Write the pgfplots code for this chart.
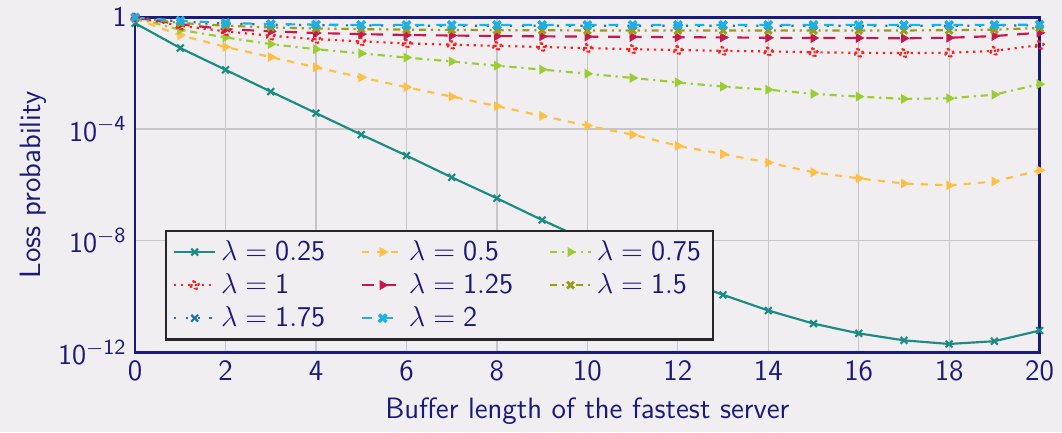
\documentclass[border=0pt]{standalone}
\usepackage{pgfplots}
\pgfplotsset{compat=1.18}
\usepackage{xcolor}
\renewcommand{\familydefault}{\sfdefault}
\definecolor{bgc}{HTML}{F0EEF0}
\definecolor{navy}{HTML}{1A1A78}
\definecolor{cA}{HTML}{1A8C84}
\definecolor{cB}{HTML}{FFBF45}
\definecolor{cC}{HTML}{9ACD32}
\definecolor{cD}{HTML}{FF1E1E}
\definecolor{cE}{HTML}{C8174C}
\definecolor{cF}{HTML}{9C9C14}
\definecolor{cG}{HTML}{2074AE}
\definecolor{cH}{HTML}{1CB0E8}
\pagecolor{bgc}
\newcommand{\fs}{\fontsize{12.3}{14.5}\selectfont}
\begin{document}
\begin{tikzpicture}
\begin{axis}[
    scale only axis,
    width=378pt, height=140pt,
    ymode=log,
    xmin=0, xmax=20, ymin=1e-12, ymax=1,
    xtick={0,2,...,20},
    ytick={1e-12,1e-8,1e-4,1},
    yticklabels={$\mathsf{10^{-12}}$,$\mathsf{10^{-8}}$,$\mathsf{10^{-4}}$,$\mathsf{1}$},
    xticklabel style={/pgf/number format/assume math mode=true},
    tick label style={font=\fs, text=navy},
    label style={font=\fs, text=navy},
    xlabel={Buffer length of the fastest server},
    ylabel={Loss probability},
    ylabel style={yshift=-2pt},
    axis line style={navy, line width=1pt},
    tick style={draw=none},
    grid=major,
    major grid style={gray!45, line width=0.5pt},
    legend columns=3,
    legend style={at={(0.033,0.035)}, anchor=south west, fill=bgc,
        draw=black!85, line width=0.9pt, font=\fs, text=navy,
        /tikz/every even column/.append style={column sep=13pt}},
    legend cell align=left,
]
\addplot[cA, line width=0.9pt, mark=x, mark size=2pt] coordinates {
(0,0.617) (1,7.94e-2) (2,1.32e-2) (3,2.19e-3) (4,3.72e-4) (5,6.31e-5) (6,1.12e-5)
(7,1.86e-6) (8,3.31e-7) (9,5.50e-8) (10,1.0e-8) (11,2.0e-9) (12,4.47e-10) (13,1.15e-10)
(14,3.16e-11) (15,1.07e-11) (16,4.79e-12) (17,2.69e-12) (18,2.0e-12) (19,2.51e-12) (20,6.03e-12)};
\addlegendentry{$\lambda = \mathsf{0.25}$}
\addplot[cB, line width=0.9pt, dashed, mark=triangle*, mark size=1.5pt, mark options={rotate=-90, solid}] coordinates {
(0,0.891) (1,0.229) (2,8.71e-2) (3,3.80e-2) (4,1.62e-2) (5,7.08e-3) (6,3.16e-3)
(7,1.45e-3) (8,6.61e-4) (9,2.95e-4) (10,1.32e-4) (11,6.31e-5) (12,2.51e-5) (13,1.26e-5)
(14,6.31e-6) (15,2.82e-6) (16,1.70e-6) (17,1.12e-6) (18,9.55e-7) (19,1.32e-6) (20,3.31e-6)};
\addlegendentry{$\lambda = \mathsf{0.5}$}
\addplot[cC, line width=0.9pt, dash dot, mark=triangle*, mark size=1.5pt, mark options={rotate=-90, solid}] coordinates {
(0,0.955) (1,0.355) (2,0.191) (3,0.110) (4,7.24e-2) (5,5.13e-2) (6,3.63e-2)
(7,2.63e-2) (8,1.86e-2) (9,1.35e-2) (10,9.55e-3) (11,6.76e-3) (12,4.68e-3) (13,3.31e-3)
(14,2.57e-3) (15,1.82e-3) (16,1.45e-3) (17,1.20e-3) (18,1.26e-3) (19,1.70e-3) (20,4.07e-3)};
\addlegendentry{$\lambda = \mathsf{0.75}$}
\addplot[cD, line width=0.9pt, dotted, mark=oplus, mark size=1.8pt] coordinates {
(0,0.977) (1,0.501) (2,0.316) (3,0.219) (4,0.166) (5,0.138) (6,0.117)
(7,0.105) (8,9.55e-2) (9,8.71e-2) (10,7.94e-2) (11,7.24e-2) (12,6.76e-2) (13,6.31e-2)
(14,6.03e-2) (15,5.62e-2) (16,5.37e-2) (17,5.25e-2) (18,5.37e-2) (19,6.31e-2) (20,0.102)};
\addlegendentry{$\lambda = \mathsf{1}$}
\addplot[cE, line width=0.9pt, dash pattern=on 5pt off 4pt, mark=triangle*, mark size=1.5pt, mark options={rotate=-90, solid}] coordinates {
(0,0.977) (1,0.562) (2,0.380) (3,0.316) (4,0.275) (5,0.251) (6,0.234)
(7,0.224) (8,0.214) (9,0.209) (10,0.204) (11,0.200) (12,0.195) (13,0.191)
(14,0.186) (15,0.182) (16,0.182) (17,0.178) (18,0.186) (19,0.214) (20,0.282)};
\addlegendentry{$\lambda = \mathsf{1.25}$}
\addplot[cF, line width=0.9pt, dash dot dot, mark=x, mark size=2pt, mark options={solid, line width=1.2pt}] coordinates {
(0,0.977) (1,0.631) (2,0.501) (3,0.437) (4,0.398) (5,0.380) (6,0.363)
(7,0.355) (8,0.347) (9,0.347) (10,0.339) (11,0.339) (12,0.339) (13,0.339)
(14,0.339) (15,0.339) (16,0.339) (17,0.339) (18,0.347) (19,0.363) (20,0.417)};
\addlegendentry{$\lambda = \mathsf{1.5}$}
\addplot[cG, line width=0.9pt, loosely dotted, mark=x, mark size=2pt, mark options={solid}] coordinates {
(0,1) (1,0.708) (2,0.603) (3,0.550) (4,0.525) (5,0.513) (6,0.505)
(7,0.501) (8,0.501) (9,0.501) (10,0.501) (11,0.501) (12,0.501) (13,0.501)
(14,0.501) (15,0.501) (16,0.501) (17,0.501) (18,0.501) (19,0.501) (20,0.525)};
\addlegendentry{$\lambda = \mathsf{1.75}$}
\addplot[cH, line width=0.9pt, dash pattern=on 4pt off 5pt, mark=x, mark size=2.2pt, mark options={solid, line width=1.4pt}] coordinates {
(0,1) (1,0.759) (2,0.631) (3,0.575) (4,0.550) (5,0.537) (6,0.537)
(7,0.537) (8,0.537) (9,0.537) (10,0.537) (11,0.537) (12,0.537) (13,0.537)
(14,0.537) (15,0.537) (16,0.537) (17,0.537) (18,0.537) (19,0.537) (20,0.550)};
\addlegendentry{$\lambda = \mathsf{2}$}
\end{axis}
\path (current bounding box.west) ++(-5pt,0) coordinate (padleft);
\path (padleft);
\end{tikzpicture}
\end{document}
